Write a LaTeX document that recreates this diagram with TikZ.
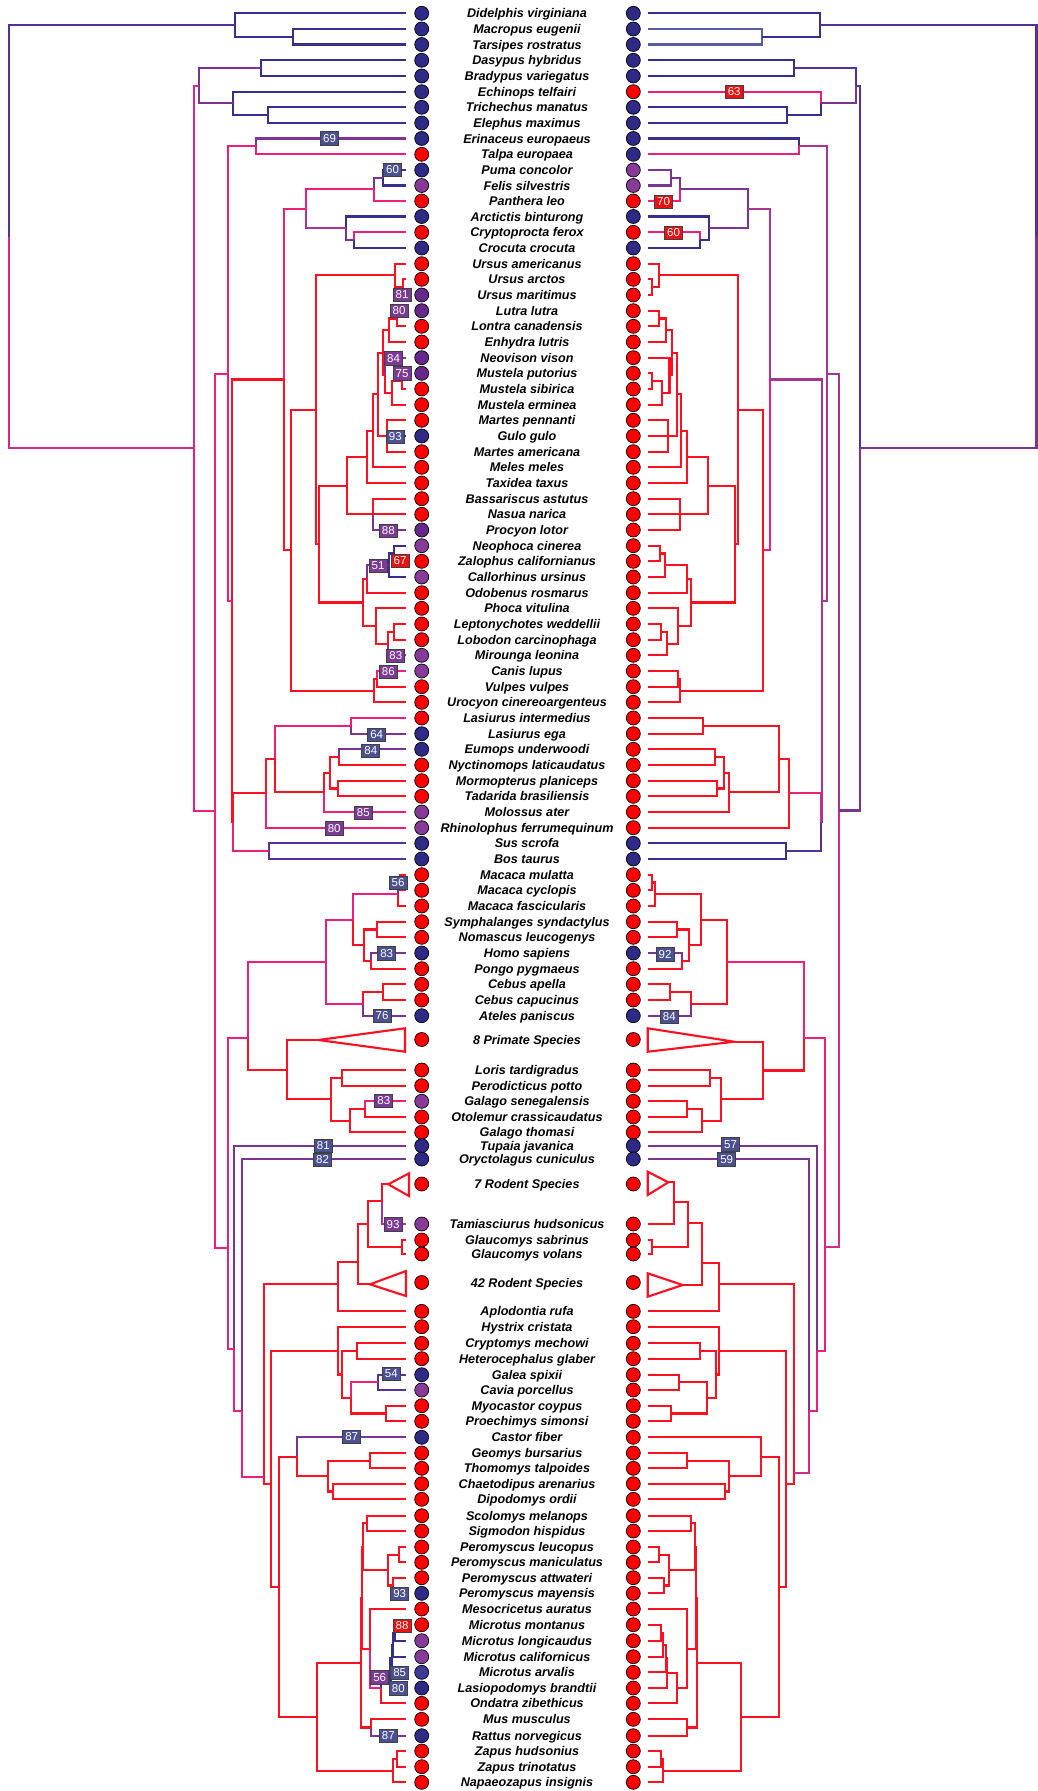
\documentclass[tikz,border=0pt]{standalone}
\usepackage{fontspec}
\setmainfont{Liberation Sans}
\usetikzlibrary{calc}
\definecolor{cb}{HTML}{382E8E}
\definecolor{cbl}{HTML}{5A5CA2}
\definecolor{cbp}{HTML}{553096}
\definecolor{cp}{HTML}{7B3494}
\definecolor{cpm}{HTML}{A8358F}
\definecolor{cmg}{HTML}{D62A8A}
\definecolor{ck}{HTML}{F01E78}
\definecolor{cr}{HTML}{FF1020}
\definecolor{cB}{HTML}{2E2A86}
\definecolor{cBm}{HTML}{3D3A95}
\definecolor{cPd}{HTML}{66288A}
\definecolor{cPl}{HTML}{873A97}
\definecolor{cR}{HTML}{FF0000}
\definecolor{bxB}{HTML}{4A5090}
\definecolor{bxP}{HTML}{7B3A93}
\definecolor{bxR}{HTML}{EE1111}
\newcommand\mknode[4]{\path let \p1=($(#3)!.5!(#4)$) in (#2pt,\y1) coordinate (#1);}
\newcommand\fixnode[3]{\coordinate (#1) at (#2,#3);}
\newcommand\tedge[3]{\draw[br,color=#3] (#1) |- (#2);}
\newcommand\mkleaf[5]{\coordinate (L#1) at (406,#2);\coordinate (R#1) at (648,#2);
  \node[dot,fill=#4] (ca#1) at (421.7,#2) {};\node[dot,fill=#5] (cc#1) at (633.3,#2) {};
  \node[sp] (t#1) at (527,#2) {#3};}
\begin{document}
\begin{tikzpicture}[x=1pt,y=-1pt,
 br/.style={line width=2.1pt},
 dot/.style={circle,draw=black,line width=0.7pt,minimum size=14pt,inner sep=0pt},
 sp/.style={font=\fontsize{12.6}{14}\selectfont\bfseries\itshape,inner sep=0pt,text height=9pt,text depth=0pt},
 lb/.style={draw=black!75,line width=0.8pt,text=white,font=\fontsize{11.5}{12}\selectfont,inner sep=0pt,minimum width=18pt,minimum height=13.5pt},
 lbB/.style={lb,fill=bxB}, lbP/.style={lb,fill=bxP}, lbR/.style={lb,fill=bxR},
 tri/.style={draw=cr,line width=2.1pt,line join=miter}]
\fill[white] (0,0) rectangle (1038,1791);
\useasboundingbox (0,0) rectangle (1038,1791);
\mkleaf{1}{13.3}{Didelphis virginiana}{cB}{cB}
\mkleaf{2}{29}{Macropus eugenii}{cB}{cB}
\mkleaf{3}{44.5}{Tarsipes rostratus}{cB}{cB}
\mkleaf{4}{60.3}{Dasypus hybridus}{cB}{cB}
\mkleaf{5}{76}{Bradypus variegatus}{cB}{cB}
\mkleaf{6}{91.7}{Echinops telfairi}{cB}{cR}
\mkleaf{7}{107.3}{Trichechus manatus}{cB}{cB}
\mkleaf{8}{123}{Elephus maximus}{cB}{cB}
\mkleaf{9}{138.5}{Erinaceus europaeus}{cB}{cB}
\mkleaf{10}{154.3}{Talpa europaea}{cR}{cB}
\mkleaf{11}{170}{Puma concolor}{cB}{cPl}
\mkleaf{12}{185.5}{Felis silvestris}{cPl}{cPl}
\mkleaf{13}{201}{Panthera leo}{cR}{cR}
\mkleaf{14}{216.5}{Arctictis binturong}{cB}{cB}
\mkleaf{15}{232.3}{Cryptoprocta ferox}{cR}{cR}
\mkleaf{16}{248}{Crocuta crocuta}{cB}{cB}
\mkleaf{17}{263.7}{Ursus americanus}{cR}{cR}
\mkleaf{18}{279.3}{Ursus arctos}{cR}{cR}
\mkleaf{19}{295}{Ursus maritimus}{cPd}{cR}
\mkleaf{20}{310.7}{Lutra lutra}{cPd}{cR}
\mkleaf{21}{326.3}{Lontra canadensis}{cR}{cR}
\mkleaf{22}{342}{Enhydra lutris}{cR}{cR}
\mkleaf{23}{357.7}{Neovison vison}{cPd}{cR}
\mkleaf{24}{373.3}{Mustela putorius}{cPd}{cR}
\mkleaf{25}{389}{Mustela sibirica}{cR}{cR}
\mkleaf{26}{404.7}{Mustela erminea}{cR}{cR}
\mkleaf{27}{420.3}{Martes pennanti}{cR}{cR}
\mkleaf{28}{436}{Gulo gulo}{cB}{cR}
\mkleaf{29}{451.7}{Martes americana}{cR}{cR}
\mkleaf{30}{467.3}{Meles meles}{cR}{cR}
\mkleaf{31}{483}{Taxidea taxus}{cR}{cR}
\mkleaf{32}{498.7}{Bassariscus astutus}{cR}{cR}
\mkleaf{33}{514.3}{Nasua narica}{cR}{cR}
\mkleaf{34}{530}{Procyon lotor}{cPd}{cR}
\mkleaf{35}{545.7}{Neophoca cinerea}{cPl}{cR}
\mkleaf{36}{561.3}{Zalophus californianus}{cR}{cR}
\mkleaf{37}{577}{Callorhinus ursinus}{cPl}{cR}
\mkleaf{38}{592.7}{Odobenus rosmarus}{cR}{cR}
\mkleaf{39}{608.3}{Phoca vitulina}{cR}{cR}
\mkleaf{40}{624}{Leptonychotes weddellii}{cR}{cR}
\mkleaf{41}{639.7}{Lobodon carcinophaga}{cR}{cR}
\mkleaf{42}{655.3}{Mirounga leonina}{cPl}{cR}
\mkleaf{43}{671}{Canis lupus}{cPl}{cR}
\mkleaf{44}{686.7}{Vulpes vulpes}{cR}{cR}
\mkleaf{45}{702.3}{Urocyon cinereoargenteus}{cR}{cR}
\mkleaf{46}{718}{Lasiurus intermedius}{cR}{cR}
\mkleaf{47}{733.7}{Lasiurus ega}{cB}{cR}
\mkleaf{48}{749.3}{Eumops underwoodi}{cB}{cR}
\mkleaf{49}{765}{Nyctinomops laticaudatus}{cR}{cR}
\mkleaf{50}{780.7}{Mormopterus planiceps}{cR}{cR}
\mkleaf{51}{796.3}{Tadarida brasiliensis}{cR}{cR}
\mkleaf{52}{812}{Molossus ater}{cPl}{cR}
\mkleaf{53}{827.7}{Rhinolophus ferrumequinum}{cPl}{cR}
\mkleaf{54}{843.3}{Sus scrofa}{cB}{cB}
\mkleaf{55}{859}{Bos taurus}{cB}{cB}
\mkleaf{56}{874.7}{Macaca mulatta}{cR}{cR}
\mkleaf{57}{890.3}{Macaca cyclopis}{cR}{cR}
\mkleaf{58}{906}{Macaca fascicularis}{cR}{cR}
\mkleaf{59}{921.7}{Symphalanges syndactylus}{cR}{cR}
\mkleaf{60}{937.3}{Nomascus leucogenys}{cR}{cR}
\mkleaf{61}{953}{Homo sapiens}{cB}{cB}
\mkleaf{62}{968.7}{Pongo pygmaeus}{cR}{cR}
\mkleaf{63}{984.3}{Cebus apella}{cR}{cR}
\mkleaf{64}{1000}{Cebus capucinus}{cR}{cR}
\mkleaf{65}{1015.7}{Ateles paniscus}{cB}{cB}
\mkleaf{66}{1039.5}{8 Primate Species}{cR}{cR}
\mkleaf{67}{1070}{Loris tardigradus}{cR}{cR}
\mkleaf{68}{1085.7}{Perodicticus potto}{cR}{cR}
\mkleaf{69}{1101.3}{Galago senegalensis}{cPl}{cR}
\mkleaf{70}{1117}{Otolemur crassicaudatus}{cR}{cR}
\mkleaf{71}{1132.3}{Galago thomasi}{cR}{cR}
\mkleaf{72}{1145.7}{Tupaia javanica}{cB}{cB}
\mkleaf{73}{1159}{Oryctolagus cuniculus}{cB}{cB}
\mkleaf{74}{1184}{7 Rodent Species}{cR}{cR}
\mkleaf{75}{1224}{Tamiasciurus hudsonicus}{cPl}{cR}
\mkleaf{76}{1240}{Glaucomys sabrinus}{cR}{cR}
\mkleaf{77}{1254}{Glaucomys volans}{cR}{cR}
\mkleaf{78}{1282.5}{42 Rodent Species}{cR}{cR}
\mkleaf{79}{1311.3}{Aplodontia rufa}{cR}{cR}
\mkleaf{80}{1326.7}{Hystrix cristata}{cR}{cR}
\mkleaf{81}{1343.3}{Cryptomys mechowi}{cR}{cR}
\mkleaf{82}{1358.7}{Heterocephalus glaber}{cR}{cR}
\mkleaf{83}{1374.7}{Galea spixii}{cB}{cR}
\mkleaf{84}{1390}{Cavia porcellus}{cPl}{cR}
\mkleaf{85}{1405.7}{Myocastor coypus}{cR}{cR}
\mkleaf{86}{1421.3}{Proechimys simonsi}{cR}{cR}
\mkleaf{87}{1437.3}{Castor fiber}{cB}{cR}
\mkleaf{88}{1453}{Geomys bursarius}{cR}{cR}
\mkleaf{89}{1468.3}{Thomomys talpoides}{cR}{cR}
\mkleaf{90}{1483.7}{Chaetodipus arenarius}{cR}{cR}
\mkleaf{91}{1499.3}{Dipodomys ordii}{cR}{cR}
\mkleaf{92}{1515.7}{Scolomys melanops}{cR}{cR}
\mkleaf{93}{1531}{Sigmodon hispidus}{cR}{cR}
\mkleaf{94}{1547}{Peromyscus leucopus}{cR}{cR}
\mkleaf{95}{1562.3}{Peromyscus maniculatus}{cR}{cR}
\mkleaf{96}{1577.7}{Peromyscus attwateri}{cR}{cR}
\mkleaf{97}{1593.3}{Peromyscus mayensis}{cB}{cR}
\mkleaf{98}{1609}{Mesocricetus auratus}{cR}{cR}
\mkleaf{99}{1624.7}{Microtus montanus}{cR}{cR}
\mkleaf{100}{1640.7}{Microtus longicaudus}{cPl}{cR}
\mkleaf{101}{1656.7}{Microtus californicus}{cPl}{cR}
\mkleaf{102}{1672.3}{Microtus arvalis}{cBm}{cR}
\mkleaf{103}{1688}{Lasiopodomys brandtii}{cB}{cR}
\mkleaf{104}{1703.3}{Ondatra zibethicus}{cR}{cR}
\mkleaf{105}{1719.3}{Mus musculus}{cR}{cR}
\mkleaf{106}{1735.7}{Rattus norvegicus}{cB}{cR}
\mkleaf{107}{1751}{Zapus hudsonius}{cR}{cR}
\mkleaf{108}{1766.7}{Zapus trinotatus}{cR}{cR}
\mkleaf{109}{1782.3}{Napaeozapus insignis}{cR}{cR}
% triangle apices
\coordinate (L66) at (318.3,1040);\coordinate (L74) at (388.3,1184.3);\coordinate (L78) at (370,1284.3);
\coordinate (R66) at (734.3,1041.7);\coordinate (R74) at (668.3,1182.3);\coordinate (R78) at (682.7,1285);
% ---------- left tree nodes
\mknode{lM2}{293}{L2}{L3}\mknode{lM}{235}{L1}{lM2}
\mknode{lXe}{261}{L4}{L5}\mknode{lAf2}{268.3}{L7}{L8}\mknode{lAf}{233.3}{L6}{lAf2}\mknode{lXA}{199}{lXe}{lAf}
\mknode{lEu}{256}{L9}{L10}
\mknode{lFP}{382.7}{L11}{L12}\mknode{lFel}{374.3}{lFP}{L13}\mknode{lHy}{354.3}{L15}{L16}\mknode{lHe}{345.7}{L14}{lHy}\mknode{lFf}{306}{lFel}{lHe}
\mknode{lUa}{403.3}{L18}{L19}\mknode{lUr}{395}{L17}{lUa}
\mknode{lLL}{396.7}{L20}{L21}\mknode{lLu}{389}{lLL}{L22}
\mknode{lMps}{401.7}{L24}{L25}\mknode{lMz}{391.7}{lMps}{L26}\mknode{lMy}{385}{L23}{lMz}
\mknode{lLM}{383.3}{lLu}{lMy}\mknode{lMart}{386.7}{L27}{L29}\mknode{lMG}{377.7}{lLM}{lMart}
\mknode{lMe}{373.3}{lMG}{L30}\mknode{lMus}{366.7}{lMe}{L31}\mknode{lPro}{372.7}{L32}{L34}\mknode{lMusl}{346.7}{lMus}{lPro}
\mknode{lNZ}{394.3}{L35}{L36}\mknode{lOt}{389.3}{lNZ}{L37}\mknode{lOO}{366.7}{lOt}{L38}
\mknode{lLLo}{394.3}{L40}{L41}\mknode{lMi}{387.7}{lLLo}{L42}\mknode{lPh}{376}{L39}{lMi}\mknode{lPin}{362.7}{lOO}{lPh}
\mknode{lMP}{319.3}{lMusl}{lPin}\mknode{lUMP}{315.7}{lUr}{lMP}
\mknode{lCV}{376.7}{L43}{L44}\mknode{lCan}{374.3}{lCV}{L45}\mknode{lCf}{291}{lUMP}{lCan}\mknode{lCarn}{284}{lFf}{lCf}
\mknode{lLa}{351}{L46}{L47}\mknode{lEN}{339.3}{L48}{L49}\mknode{lMT}{337.7}{L50}{L51}\mknode{lMo3}{330}{lEN}{lMT}\mknode{lMo}{324.3}{lMo3}{L52}
\mknode{lB2}{275}{lLa}{lMo}\mknode{lChi}{265.7}{lB2}{L53}\mknode{lCet}{269}{L54}{L55}\mknode{lLau}{233.3}{lChi}{lCet}
\mknode{lA4}{232.3}{lCarn}{lLau}\mknode{lA3}{227.7}{lEu}{lA4}
\mknode{lMc}{400}{L56}{L57}\mknode{lMac}{398.3}{lMc}{L58}\mknode{lHyl}{376.7}{L59}{L60}\mknode{lHom}{371}{L61}{L62}
\mknode{lHo}{364.3}{lHyl}{lHom}\mknode{lCat}{352.7}{lMac}{lHo}\mknode{lCe}{383.3}{L63}{L64}\mknode{lPla}{362.7}{lCe}{L65}\mknode{lAnt}{326}{lCat}{lPla}
\mknode{lLP}{341.7}{L67}{L68}\mknode{lGO}{365}{L69}{L70}\mknode{lGa}{350}{lGO}{L71}\mknode{lLor}{331}{lLP}{lGa}\mknode{lStr}{286.7}{L66}{lLor}
\fixnode{lP}{248.3}{1038.3}
\mknode{lGl}{401.7}{L76}{L77}\fixnode{lS1}{381.7}{1201}\fixnode{lS2}{368.3}{1224.3}\fixnode{lS3}{357.7}{1261.7}\fixnode{lSA}{338.3}{1284.3}
\mknode{lCH}{356.7}{L81}{L82}\mknode{lGC}{378.3}{L83}{L84}\mknode{lMP2}{386}{L85}{L86}\mknode{lCav}{351}{lGC}{lMP2}\mknode{lH2}{341.7}{lCH}{lCav}\mknode{lH}{338.3}{L80}{lH2}
\mknode{lGT}{370}{L88}{L89}\mknode{lCD}{333.3}{L90}{L91}\mknode{lGeo}{328.3}{lGT}{lCD}\mknode{lCas}{296.7}{L87}{lGeo}
\mknode{lSS}{366.7}{L92}{L93}\mknode{lPLM}{399}{L94}{L95}\mknode{lPAM}{393.3}{L96}{L97}\mknode{lPer}{387.7}{lPLM}{lPAM}\mknode{lSP}{362.7}{lSS}{lPer}
\mknode{lML}{395}{L99}{L100}\mknode{lY}{393.3}{lML}{L101}\mknode{lX}{391.7}{lY}{L102}\mknode{lAC}{390.5}{lX}{L103}\mknode{lArv}{381}{lAC}{L104}\mknode{lMA}{370}{L98}{lArv}
\mknode{lCri}{361.7}{lSP}{lMA}\mknode{lMR}{371}{L105}{L106}\mknode{lMur}{361}{lCri}{lMR}
\mknode{lZZ}{396.7}{L107}{L108}\mknode{lDip}{393.3}{lZZ}{L109}\mknode{lMyo}{316.7}{lMur}{lDip}\mknode{lN279}{279}{lCas}{lMyo}
\fixnode{lN271}{271}{1484.3}\fixnode{lRodA}{264.3}{1476.7}\fixnode{lO}{241.7}{1410.7}\fixnode{lT}{234.3}{1349.3}\fixnode{lE}{228.3}{1248.3}
\mknode{lA2}{215}{lA3}{lE}\mknode{lA1}{194}{lXA}{lA2}\mknode{lRoot}{9}{lM}{lA1}
% ---------- right tree nodes
\mknode{rM2}{762.3}{R2}{R3}\mknode{rM}{820}{R1}{rM2}
\mknode{rXe}{794}{R4}{R5}\mknode{rAf2}{786.7}{R7}{R8}\mknode{rAf}{821}{R6}{rAf2}\mknode{rXA}{855.7}{rXe}{rAf}
\mknode{rEu}{799}{R9}{R10}
\mknode{rFP}{671}{R11}{R12}\mknode{rFel}{680}{rFP}{R13}\mknode{rHy}{700}{R15}{R16}\mknode{rHe}{709}{R14}{rHy}\mknode{rFf}{748.3}{rFel}{rHe}
\mknode{rUa}{651.7}{R18}{R19}\mknode{rUr}{659.3}{R17}{rUa}
\mknode{rLL}{659}{R20}{R21}\mknode{rLu}{665.7}{rLL}{R22}
\mknode{rMps}{651.7}{R24}{R25}\mknode{rMz}{661.7}{rMps}{R26}\mknode{rMy}{669.5}{R23}{rMz}
\mknode{rLM}{671.7}{rLu}{rMy}\mknode{rMart}{667.7}{R27}{R29}\mknode{rMG}{677.3}{rLM}{rMart}
\mknode{rMe}{681}{rMG}{R30}\mknode{rMus}{687.3}{rMe}{R31}\mknode{rPro}{680}{R32}{R34}\mknode{rMusl}{708.3}{rMus}{rPro}
\mknode{rNZ}{660.3}{R35}{R36}\mknode{rOt}{665}{rNZ}{R37}\mknode{rOO}{687.3}{rOt}{R38}
\mknode{rLLo}{661}{R40}{R41}\mknode{rMi}{667.3}{rLLo}{R42}\mknode{rPh}{678.3}{R39}{rMi}\mknode{rPin}{691}{rOO}{rPh}
\mknode{rMP}{735}{rMusl}{rPin}\mknode{rUMP}{738.3}{rUr}{rMP}
\mknode{rCV}{678}{R43}{R44}\mknode{rCan}{680}{rCV}{R45}\mknode{rCf}{763.3}{rUMP}{rCan}\mknode{rCarn}{770}{rFf}{rCf}
\mknode{rLa}{703.3}{R46}{R47}\mknode{rEN}{715}{R48}{R49}\mknode{rMT}{716.7}{R50}{R51}\mknode{rMo3}{724}{rEN}{rMT}\mknode{rMo}{729.3}{rMo3}{R52}
\mknode{rB2}{779.3}{rLa}{rMo}\mknode{rChi}{789}{rB2}{R53}\mknode{rCet}{785.7}{R54}{R55}\mknode{rLau}{821}{rChi}{rCet}
\mknode{rA4}{821.7}{rCarn}{rLau}\mknode{rA3}{826.7}{rEu}{rA4}
\mknode{rMc}{652.3}{R56}{R57}\mknode{rMac}{655}{rMc}{R58}\mknode{rHyl}{676.7}{R59}{R60}\mknode{rHom}{682.3}{R61}{R62}
\mknode{rHo}{689}{rHyl}{rHom}\mknode{rCat}{700.7}{rMac}{rHo}\mknode{rCe}{670}{R63}{R64}\mknode{rPla}{691}{rCe}{R65}\mknode{rAnt}{727.3}{rCat}{rPla}
\mknode{rLP}{710}{R67}{R68}\mknode{rGO}{686.7}{R69}{R70}\mknode{rGa}{701.7}{rGO}{R71}\mknode{rLor}{720.7}{rLP}{rGa}\mknode{rStr}{763.3}{R66}{rLor}
\fixnode{rP}{804}{1037.7}
\mknode{rGl}{652.3}{R76}{R77}\fixnode{rS1}{674}{1201.7}\fixnode{rS2}{687.7}{1222.7}\fixnode{rS3}{701.7}{1262.7}\fixnode{rSA}{719.3}{1284.3}
\mknode{rCH}{700}{R81}{R82}\mknode{rGC}{679.3}{R83}{R84}\mknode{rMP2}{671}{R85}{R86}\mknode{rCav}{706.7}{rGC}{rMP2}\mknode{rH2}{716}{rCH}{rCav}\mknode{rH}{719.3}{R80}{rH2}
\mknode{rGT}{687.3}{R88}{R89}\mknode{rCD}{725}{R90}{R91}\mknode{rGeo}{729.3}{rGT}{rCD}\mknode{rCas}{761}{R87}{rGeo}
\mknode{rSS}{690.7}{R92}{R93}\mknode{rPLM}{659}{R94}{R95}\mknode{rPAM}{664}{R96}{R97}\mknode{rPer}{669.3}{rPLM}{rPAM}\mknode{rSP}{695}{rSS}{rPer}
\mknode{rML}{660.7}{R99}{R100}\mknode{rY}{663.3}{rML}{R101}\mknode{rX}{665.7}{rY}{R102}\mknode{rAC}{666.7}{rX}{R103}\mknode{rArv}{676.7}{rAC}{R104}\mknode{rMA}{687.3}{R98}{rArv}
\mknode{rCri}{696}{rSP}{rMA}\mknode{rMR}{687.3}{R105}{R106}\mknode{rMur}{697.3}{rCri}{rMR}
\mknode{rZZ}{660.7}{R107}{R108}\mknode{rDip}{663.3}{rZZ}{R109}\mknode{rMyo}{741}{rMur}{rDip}\mknode{rN779}{779}{rCas}{rMyo}
\fixnode{rN786}{786}{1484.3}\fixnode{rRodA}{794.3}{1473.3}\fixnode{rO}{809.3}{1411}\fixnode{rT}{816.7}{1351}\fixnode{rE}{825}{1247.3}
\mknode{rA2}{839.3}{rA3}{rE}\mknode{rA1}{860}{rXA}{rA2}\mknode{rRoot}{1036.5}{rM}{rA1}
% ---------- left edges
\tedge{lM2}{L2}{cb}\tedge{lM2}{L3}{cb}\tedge{lM}{L1}{cb}\tedge{lM}{lM2}{cb}
\tedge{lXe}{L4}{cb}\tedge{lXe}{L5}{cb}\tedge{lAf2}{L7}{cb}\tedge{lAf2}{L8}{cb}
\tedge{lAf}{L6}{cb}\tedge{lAf}{lAf2}{cb}\tedge{lXA}{lXe}{cp}\tedge{lXA}{lAf}{cp}
\tedge{lEu}{L9}{cp}\tedge{lEu}{L10}{ck}
\tedge{lFP}{L11}{cb}\tedge{lFP}{L12}{cb}\tedge{lFel}{lFP}{cp}\tedge{lFel}{L13}{ck}
\tedge{lHy}{L15}{ck}\tedge{lHy}{L16}{cb}\tedge{lHe}{L14}{cb}\tedge{lHe}{lHy}{cp}
\tedge{lFf}{lFel}{ck}\tedge{lFf}{lHe}{cpm}
\tedge{lUa}{L18}{cr}\tedge{lUa}{L19}{cp}\tedge{lUr}{L17}{cr}\tedge{lUr}{lUa}{cr}
\tedge{lLL}{L20}{cp}\tedge{lLL}{L21}{cr}\tedge{lLu}{lLL}{cr}\tedge{lLu}{L22}{cr}
\tedge{lMps}{L24}{cp}\tedge{lMps}{L25}{cr}\tedge{lMz}{lMps}{cr}\tedge{lMz}{L26}{cr}
\tedge{lMy}{L23}{cp}\tedge{lMy}{lMz}{cr}\tedge{lLM}{lLu}{cr}\tedge{lLM}{lMy}{cr}
\tedge{lMart}{L27}{cr}\tedge{lMart}{L28}{cb}\tedge{lMart}{L29}{cr}
\tedge{lMG}{lLM}{cr}\tedge{lMG}{lMart}{cr}\tedge{lMe}{lMG}{cr}\tedge{lMe}{L30}{cr}
\tedge{lMus}{lMe}{cr}\tedge{lMus}{L31}{cr}
\tedge{lPro}{L32}{cr}\tedge{lPro}{L33}{cr}\tedge{lPro}{L34}{cp}
\tedge{lMusl}{lMus}{cr}\tedge{lMusl}{lPro}{cr}
\tedge{lNZ}{L35}{cb}\tedge{lNZ}{L36}{cr}\tedge{lOt}{lNZ}{cb}\tedge{lOt}{L37}{cb}
\tedge{lOO}{lOt}{cp}\tedge{lOO}{L38}{cr}
\tedge{lLLo}{L40}{cr}\tedge{lLLo}{L41}{cr}\tedge{lMi}{lLLo}{cr}\tedge{lMi}{L42}{cp}
\tedge{lPh}{L39}{cr}\tedge{lPh}{lMi}{cr}\tedge{lPin}{lOO}{cr}\tedge{lPin}{lPh}{cr}
\tedge{lMP}{lMusl}{cr}\tedge{lMP}{lPin}{cr}\tedge{lUMP}{lUr}{cr}\tedge{lUMP}{lMP}{cr}
\tedge{lCV}{L43}{ck}\tedge{lCV}{L44}{cr}\tedge{lCan}{lCV}{cr}\tedge{lCan}{L45}{cr}
\tedge{lCf}{lUMP}{cr}\tedge{lCf}{lCan}{cr}
\tedge{lCarn}{lFf}{ck}\tedge{lCarn}{lCf}{cr}
\tedge{lLa}{L46}{ck}\tedge{lLa}{L47}{cp}
\tedge{lEN}{L48}{cp}\tedge{lEN}{L49}{cr}\tedge{lMT}{L50}{cr}\tedge{lMT}{L51}{cr}
\tedge{lMo3}{lEN}{cr}\tedge{lMo3}{lMT}{cr}\tedge{lMo}{lMo3}{cr}\tedge{lMo}{L52}{ck}
\tedge{lB2}{lLa}{ck}\tedge{lB2}{lMo}{cr}\tedge{lChi}{lB2}{cr}\tedge{lChi}{L53}{ck}
\tedge{lCet}{L54}{cbp}\tedge{lCet}{L55}{cbp}
\tedge{lLau}{lChi}{cr}\tedge{lLau}{lCet}{ck}
\tedge{lA4}{lCarn}{cr}\tedge{lA4}{lLau}{cr}
\tedge{lA3}{lEu}{ck}\tedge{lA3}{lA4}{ck}
\tedge{lMc}{L56}{cr}\tedge{lMc}{L57}{cr}\tedge{lMac}{lMc}{cbp}\tedge{lMac}{L58}{cr}
\tedge{lHyl}{L59}{cr}\tedge{lHyl}{L60}{cr}\tedge{lHom}{L61}{cp}\tedge{lHom}{L62}{cr}
\tedge{lHo}{lHyl}{cr}\tedge{lHo}{lHom}{cr}\tedge{lCat}{lMac}{ck}\tedge{lCat}{lHo}{cr}
\tedge{lCe}{L63}{cr}\tedge{lCe}{L64}{cr}\tedge{lPla}{lCe}{cr}\tedge{lPla}{L65}{cp}
\tedge{lAnt}{lCat}{ck}\tedge{lAnt}{lPla}{ck}
\tedge{lLP}{L67}{cr}\tedge{lLP}{L68}{cr}\tedge{lGO}{L69}{ck}\tedge{lGO}{L70}{cr}
\tedge{lGa}{lGO}{cr}\tedge{lGa}{L71}{cr}\tedge{lLor}{lLP}{cr}\tedge{lLor}{lGa}{cr}
\tedge{lStr}{L66}{cr}\tedge{lStr}{lLor}{cr}
\tedge{lP}{lAnt}{ck}\tedge{lP}{lStr}{cr}
\tedge{lGl}{L76}{cr}\tedge{lGl}{L77}{cr}
\tedge{lS1}{L74}{cr}\tedge{lS1}{L75}{cpm}
\tedge{lS2}{lS1}{cr}\tedge{lS2}{lGl}{cr}
\tedge{lS3}{lS2}{cr}\tedge{lS3}{L78}{cr}
\tedge{lSA}{lS3}{cr}\tedge{lSA}{L79}{cr}
\tedge{lCH}{L81}{cr}\tedge{lCH}{L82}{cr}
\tedge{lGC}{L83}{cbp}\tedge{lGC}{L84}{cbp}
\tedge{lMP2}{L85}{cr}\tedge{lMP2}{L86}{cr}
\tedge{lCav}{lGC}{ck}\tedge{lCav}{lMP2}{cr}
\tedge{lH2}{lCH}{cr}\tedge{lH2}{lCav}{cr}
\tedge{lH}{L80}{cr}\tedge{lH}{lH2}{cr}
\tedge{lGT}{L88}{cr}\tedge{lGT}{L89}{cr}\tedge{lCD}{L90}{cr}\tedge{lCD}{L91}{cr}
\tedge{lGeo}{lGT}{cr}\tedge{lGeo}{lCD}{cr}
\tedge{lCas}{L87}{cp}\tedge{lCas}{lGeo}{cr}
\tedge{lSS}{L92}{cr}\tedge{lSS}{L93}{cr}
\tedge{lPLM}{L94}{cr}\tedge{lPLM}{L95}{cr}\tedge{lPAM}{L96}{cr}\tedge{lPAM}{L97}{cb}
\tedge{lPer}{lPLM}{cr}\tedge{lPer}{lPAM}{cr}
\tedge{lSP}{lSS}{cr}\tedge{lSP}{lPer}{cr}
\tedge{lML}{L99}{cr}\tedge{lML}{L100}{cb}
\tedge{lY}{lML}{cb}\tedge{lY}{L101}{cb}
\tedge{lX}{lY}{cb}\tedge{lX}{L102}{cb}
\tedge{lAC}{lX}{cb}\tedge{lAC}{L103}{cb}
\tedge{lArv}{lAC}{cb}\tedge{lArv}{L104}{cr}
\tedge{lMA}{L98}{cr}\tedge{lMA}{lArv}{ck}
\tedge{lCri}{lSP}{cr}\tedge{lCri}{lMA}{cr}
\tedge{lMR}{L105}{cr}\tedge{lMR}{L106}{cp}
\tedge{lMur}{lCri}{cr}\tedge{lMur}{lMR}{cr}
\tedge{lZZ}{L107}{cr}\tedge{lZZ}{L108}{cr}
\tedge{lDip}{lZZ}{cr}\tedge{lDip}{L109}{cr}
\tedge{lMyo}{lMur}{cr}\tedge{lMyo}{lDip}{cr}
\tedge{lN279}{lCas}{cr}\tedge{lN279}{lMyo}{cr}
\tedge{lN271}{lH}{cr}\tedge{lN271}{lN279}{cr}
\tedge{lRodA}{lSA}{cr}\tedge{lRodA}{lN271}{cr}
\tedge{lO}{L73}{cp}\tedge{lO}{lRodA}{ck}
\tedge{lT}{L72}{cp}\tedge{lT}{lO}{ck}
\tedge{lE}{lP}{ck}\tedge{lE}{lT}{ck}
\tedge{lA2}{lA3}{ck}\tedge{lA2}{lE}{ck}
\tedge{lA1}{lXA}{cmg}\tedge{lA1}{lA2}{ck}
\tedge{lRoot}{lM}{cbp}\tedge{lRoot}{lA1}{cmg}
% ---------- right edges
\tedge{rM2}{R2}{cbl}\tedge{rM2}{R3}{cbl}\tedge{rM}{R1}{cb}\tedge{rM}{rM2}{cb}
\tedge{rXe}{R4}{cb}\tedge{rXe}{R5}{cb}\tedge{rAf2}{R7}{cb}\tedge{rAf2}{R8}{cb}
\tedge{rAf}{R6}{ck}\tedge{rAf}{rAf2}{cb}\tedge{rXA}{rXe}{cbp}\tedge{rXA}{rAf}{cp}
\tedge{rEu}{R9}{cb}\tedge{rEu}{R10}{ck}
\tedge{rFP}{R11}{cp}\tedge{rFP}{R12}{cp}\tedge{rFel}{rFP}{cp}\tedge{rFel}{R13}{ck}
\tedge{rHy}{R15}{ck}\tedge{rHy}{R16}{cb}\tedge{rHe}{R14}{cb}\tedge{rHe}{rHy}{cb}
\tedge{rFf}{rFel}{cp}\tedge{rFf}{rHe}{cp}
\tedge{rUa}{R18}{cr}\tedge{rUa}{R19}{cr}\tedge{rUr}{R17}{cr}\tedge{rUr}{rUa}{cr}
\tedge{rLL}{R20}{cr}\tedge{rLL}{R21}{cr}\tedge{rLu}{rLL}{cr}\tedge{rLu}{R22}{cr}
\tedge{rMps}{R24}{cr}\tedge{rMps}{R25}{cr}\tedge{rMz}{rMps}{cr}\tedge{rMz}{R26}{cr}
\tedge{rMy}{R23}{cr}\tedge{rMy}{rMz}{cr}\tedge{rLM}{rLu}{cr}\tedge{rLM}{rMy}{cr}
\tedge{rMart}{R27}{cr}\tedge{rMart}{R28}{cr}\tedge{rMart}{R29}{cr}
\tedge{rMG}{rLM}{cr}\tedge{rMG}{rMart}{cr}\tedge{rMe}{rMG}{cr}\tedge{rMe}{R30}{cr}
\tedge{rMus}{rMe}{cr}\tedge{rMus}{R31}{cr}
\tedge{rPro}{R32}{cr}\tedge{rPro}{R33}{cr}\tedge{rPro}{R34}{cr}
\tedge{rMusl}{rMus}{cr}\tedge{rMusl}{rPro}{cr}
\tedge{rNZ}{R35}{cr}\tedge{rNZ}{R36}{cr}\tedge{rOt}{rNZ}{cr}\tedge{rOt}{R37}{cr}
\tedge{rOO}{rOt}{cr}\tedge{rOO}{R38}{cr}
\tedge{rLLo}{R40}{cr}\tedge{rLLo}{R41}{cr}\tedge{rMi}{rLLo}{cr}\tedge{rMi}{R42}{cr}
\tedge{rPh}{R39}{cr}\tedge{rPh}{rMi}{cr}\tedge{rPin}{rOO}{cr}\tedge{rPin}{rPh}{cr}
\tedge{rMP}{rMusl}{cr}\tedge{rMP}{rPin}{cr}\tedge{rUMP}{rUr}{cr}\tedge{rUMP}{rMP}{cr}
\tedge{rCV}{R43}{cr}\tedge{rCV}{R44}{cr}\tedge{rCan}{rCV}{cr}\tedge{rCan}{R45}{cr}
\tedge{rCf}{rUMP}{cr}\tedge{rCf}{rCan}{cr}
\tedge{rCarn}{rFf}{cpm}\tedge{rCarn}{rCf}{ck}
\tedge{rLa}{R46}{cr}\tedge{rLa}{R47}{cr}
\tedge{rEN}{R48}{cr}\tedge{rEN}{R49}{cr}\tedge{rMT}{R50}{cr}\tedge{rMT}{R51}{cr}
\tedge{rMo3}{rEN}{cr}\tedge{rMo3}{rMT}{cr}\tedge{rMo}{rMo3}{cr}\tedge{rMo}{R52}{cr}
\tedge{rB2}{rLa}{cr}\tedge{rB2}{rMo}{cr}\tedge{rChi}{rB2}{cr}\tedge{rChi}{R53}{cr}
\tedge{rCet}{R54}{cb}\tedge{rCet}{R55}{cb}
\tedge{rLau}{rChi}{ck}\tedge{rLau}{rCet}{cbp}
\tedge{rA4}{rCarn}{cpm}\tedge{rA4}{rLau}{cpm}
\tedge{rA3}{rEu}{cpm}\tedge{rA3}{rA4}{cpm}
\tedge{rMc}{R56}{cr}\tedge{rMc}{R57}{cr}\tedge{rMac}{rMc}{cr}\tedge{rMac}{R58}{cr}
\tedge{rHyl}{R59}{cr}\tedge{rHyl}{R60}{cr}\tedge{rHom}{R61}{cp}\tedge{rHom}{R62}{cr}
\tedge{rHo}{rHyl}{cr}\tedge{rHo}{rHom}{cr}\tedge{rCat}{rMac}{cr}\tedge{rCat}{rHo}{cr}
\tedge{rCe}{R63}{cr}\tedge{rCe}{R64}{cr}\tedge{rPla}{rCe}{cr}\tedge{rPla}{R65}{cp}
\tedge{rAnt}{rCat}{cr}\tedge{rAnt}{rPla}{cr}
\tedge{rLP}{R67}{cr}\tedge{rLP}{R68}{cr}\tedge{rGO}{R69}{cr}\tedge{rGO}{R70}{cr}
\tedge{rGa}{rGO}{cr}\tedge{rGa}{R71}{cr}\tedge{rLor}{rLP}{cr}\tedge{rLor}{rGa}{cr}
\tedge{rStr}{R66}{cr}\tedge{rStr}{rLor}{cr}
\tedge{rP}{rAnt}{ck}\tedge{rP}{rStr}{cr}
\tedge{rGl}{R76}{cr}\tedge{rGl}{R77}{cr}
\tedge{rS1}{R74}{cr}\tedge{rS1}{R75}{cr}
\tedge{rS2}{rS1}{cr}\tedge{rS2}{rGl}{cr}
\tedge{rS3}{rS2}{cr}\tedge{rS3}{R78}{cr}
\tedge{rSA}{rS3}{cr}\tedge{rSA}{R79}{cr}
\tedge{rCH}{R81}{cr}\tedge{rCH}{R82}{cr}
\tedge{rGC}{R83}{cr}\tedge{rGC}{R84}{cr}
\tedge{rMP2}{R85}{cr}\tedge{rMP2}{R86}{cr}
\tedge{rCav}{rGC}{cr}\tedge{rCav}{rMP2}{cr}
\tedge{rH2}{rCH}{cr}\tedge{rH2}{rCav}{cr}
\tedge{rH}{R80}{cr}\tedge{rH}{rH2}{cr}
\tedge{rGT}{R88}{cr}\tedge{rGT}{R89}{cr}\tedge{rCD}{R90}{cr}\tedge{rCD}{R91}{cr}
\tedge{rGeo}{rGT}{cr}\tedge{rGeo}{rCD}{cr}
\tedge{rCas}{R87}{cr}\tedge{rCas}{rGeo}{cr}
\tedge{rSS}{R92}{cr}\tedge{rSS}{R93}{cr}
\tedge{rPLM}{R94}{cr}\tedge{rPLM}{R95}{cr}\tedge{rPAM}{R96}{cr}\tedge{rPAM}{R97}{cr}
\tedge{rPer}{rPLM}{cr}\tedge{rPer}{rPAM}{cr}
\tedge{rSP}{rSS}{cr}\tedge{rSP}{rPer}{cr}
\tedge{rML}{R99}{cr}\tedge{rML}{R100}{cr}
\tedge{rY}{rML}{cr}\tedge{rY}{R101}{cr}
\tedge{rX}{rY}{cr}\tedge{rX}{R102}{cr}
\tedge{rAC}{rX}{cr}\tedge{rAC}{R103}{cr}
\tedge{rArv}{rAC}{cr}\tedge{rArv}{R104}{cr}
\tedge{rMA}{R98}{cr}\tedge{rMA}{rArv}{cr}
\tedge{rCri}{rSP}{cr}\tedge{rCri}{rMA}{cr}
\tedge{rMR}{R105}{cr}\tedge{rMR}{R106}{cr}
\tedge{rMur}{rCri}{cr}\tedge{rMur}{rMR}{cr}
\tedge{rZZ}{R107}{cr}\tedge{rZZ}{R108}{cr}
\tedge{rDip}{rZZ}{cr}\tedge{rDip}{R109}{cr}
\tedge{rMyo}{rMur}{cr}\tedge{rMyo}{rDip}{cr}
\tedge{rN779}{rCas}{cr}\tedge{rN779}{rMyo}{cr}
\tedge{rN786}{rH}{cr}\tedge{rN786}{rN779}{cr}
\tedge{rRodA}{rSA}{cr}\tedge{rRodA}{rN786}{cr}
\tedge{rO}{R73}{cp}\tedge{rO}{rRodA}{cmg}
\tedge{rT}{R72}{cp}\tedge{rT}{rO}{ck}
\tedge{rE}{rP}{ck}\tedge{rE}{rT}{ck}
\tedge{rA2}{rA3}{cpm}\tedge{rA2}{rE}{cmg}
\tedge{rA1}{rXA}{cbp}\tedge{rA1}{rA2}{cp}
\tedge{rRoot}{rM}{cbp}\tedge{rRoot}{rA1}{cp}
% ---------- collapsed clades
\draw[tri] (L66) -- (405,1028.3) -- (405,1051.7) -- cycle;
\draw[tri] (L74) -- (409,1173.3) -- (409,1196) -- cycle;
\draw[tri] (L78) -- (406,1271) -- (406,1296) -- cycle;
\draw[tri] (R66) -- (647.7,1028.3) -- (647.7,1051.7) -- cycle;
\draw[tri] (R74) -- (647.7,1171.7) -- (647.7,1195) -- cycle;
\draw[tri] (R78) -- (647.7,1273.3) -- (647.7,1296.7) -- cycle;
% ---------- support labels
\node[lbB] (n1) at (329.5,138.3) {69};
\node[lbB] (n2) at (392.5,169.7) {60};
\node[lbP] (n3) at (402,294.7) {81};
\node[lbP] (n4) at (399,310.7) {80};
\node[lbP] (n5) at (393.5,358.3) {84};
\node[lbP] (n6) at (402,373.3) {75};
\node[lbB] (n7) at (395.3,436.7) {93};
\node[lbP] (n8) at (388.3,530.7) {88};
\node[lbP] (n9) at (378,566) {51};
\node[lbR] (n10) at (400,561) {67};
\node[lbP] (n11) at (395.8,656) {83};
\node[lbP] (n12) at (388.3,671.7) {86};
\node[lbB] (n13) at (376.7,734.7) {64};
\node[lbB] (n14) at (370.8,750.7) {84};
\node[lbP] (n15) at (363.3,812.7) {85};
\node[lbP] (n16) at (334.2,828.3) {80};
\node[lbB] (n17) at (398,882.7) {56};
\node[lbB] (n18) at (386.7,953.3) {83};
\node[lbB] (n19) at (382,1016) {76};
\node[lbP] (n20) at (383.8,1101) {83};
\node[lbB] (n21) at (323.3,1145.7) {81};
\node[lbB] (n22) at (322.5,1160) {82};
\node[lbP] (n23) at (393,1224.3) {93};
\node[lbB] (n24) at (391.3,1374) {54};
\node[lbB] (n25) at (351.7,1436.7) {87};
\node[lbB] (n26) at (399.7,1594) {93};
\node[lbR] (n27) at (402,1625.7) {88};
\node[lbP] (n29) at (379.7,1677.3) {56};
\node[lbB] (n28) at (399.7,1672.7) {85};
\node[lbB] (n30) at (398.3,1688.3) {80};
\node[lbB] (n31) at (388.3,1735.7) {87};
\node[lbR] (m1) at (734.2,91.7) {63};
\node[lbR] (m2) at (663.5,201.7) {70};
\node[lbR] (m3) at (673.5,232.7) {60};
\node[lbB] (m4) at (665,954.3) {92};
\node[lbB] (m5) at (669.3,1017) {84};
\node[lbB] (m6) at (730.5,1144.3) {57};
\node[lbB] (m7) at (726.7,1159.3) {59};
\end{tikzpicture}
\end{document}
